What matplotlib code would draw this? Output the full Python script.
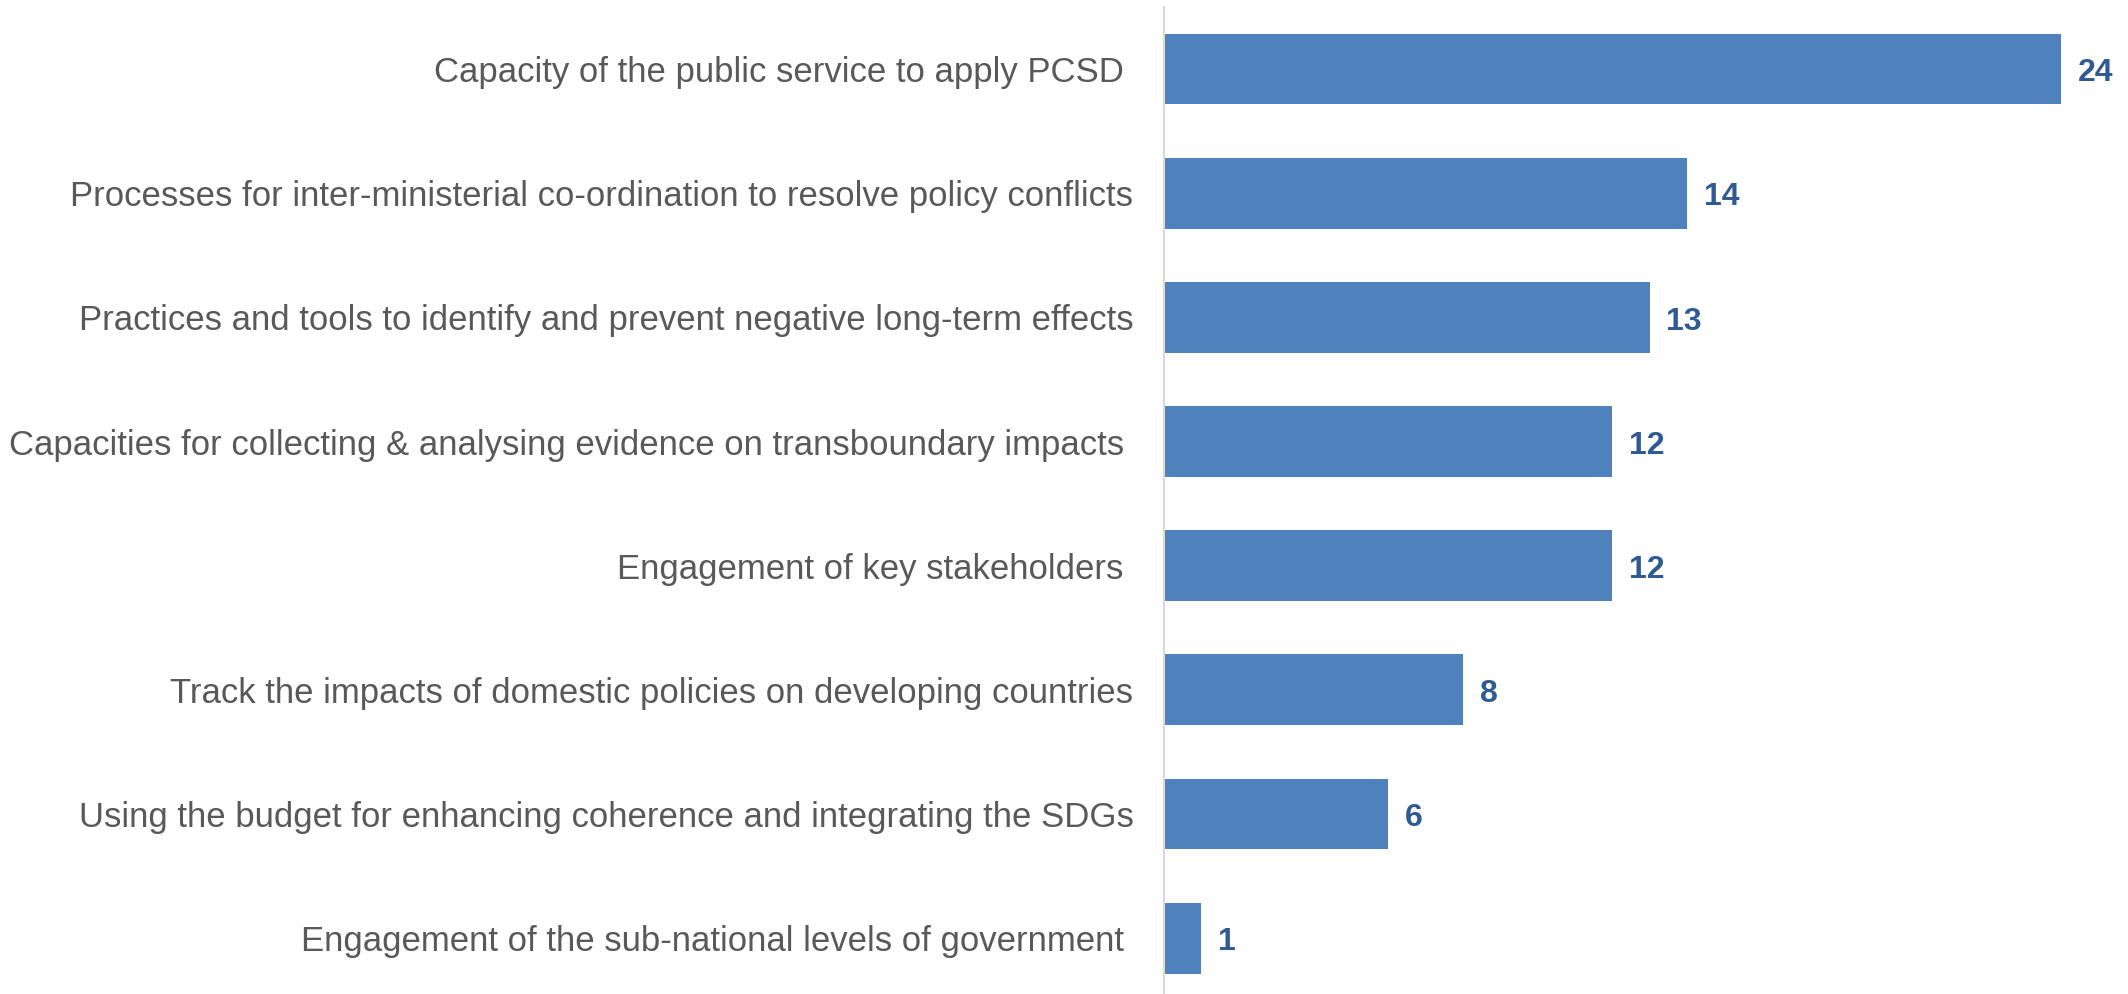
import matplotlib.pyplot as plt

categories = [
    "Capacity of the public service to apply PCSD ",
    "Processes for inter-ministerial co-ordination to resolve policy conflicts",
    "Practices and tools to identify and prevent negative long-term effects",
    "Capacities for collecting & analysing evidence on transboundary impacts ",
    "Engagement of key stakeholders ",
    "Track the impacts of domestic policies on developing countries",
    "Using the budget for enhancing coherence and integrating the SDGs",
    "Engagement of the sub-national levels of government ",
]
counts = [24, 14, 13, 12, 12, 8, 6, 1]

bar_color = "#4F81BD"
value_color = "#2F5A93"
text_color = "#595959"

plt.rcParams["font.family"] = ["Liberation Sans", "DejaVu Sans"]

fig = plt.figure(figsize=(21.28, 9.94), dpi=100)
ax = fig.add_axes([0.547, 0.0, 0.453, 0.993])

pos = range(len(categories))
bars = ax.barh(pos, counts, height=0.57, color=bar_color)

# value labels just past the end of each bar
for rect, v in zip(bars, counts):
    ax.annotate(str(v), xy=(rect.get_width(), rect.get_y() + rect.get_height() / 2),
                xytext=(12, -3), textcoords="offset points",
                ha="left", va="center", fontsize=23, fontweight="bold",
                color=value_color)

ax.set_yticks(list(pos))
ax.set_yticklabels(categories, fontsize=25, color=text_color)
ax.set_ylim(7.45, -0.5)
ax.set_xlim(0, 25.8)

ax.tick_params(axis="y", length=0, pad=22)
ax.set_xticks([])
for side in ["top", "right", "bottom"]:
    ax.spines[side].set_visible(False)
ax.spines["left"].set_color("#D9D9D9")
ax.spines["left"].set_linewidth(1.5)

fig.savefig("out.png", dpi=100)
